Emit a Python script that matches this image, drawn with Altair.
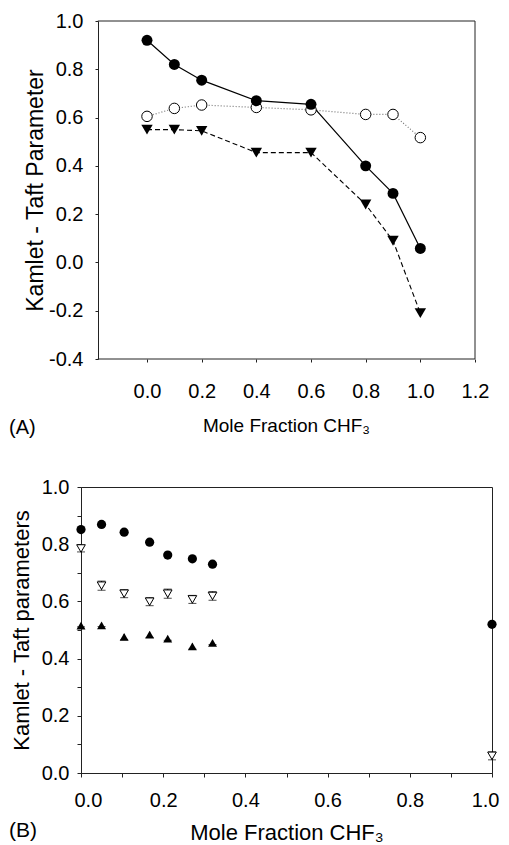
import altair as alt
import pandas as pd

# ---------------- Panel A data ----------------
A_x = [0.0, 0.1, 0.2, 0.4, 0.6, 0.8, 0.9, 1.0]
A_filled = [0.92, 0.82, 0.755, 0.67, 0.655, 0.40, 0.286, 0.058]
A_open = [0.605, 0.638, 0.652, 0.642, 0.632, 0.613, 0.613, 0.517]
A_tri = [0.55, 0.55, 0.545, 0.455, 0.455, 0.24, 0.09, -0.21]
A_xticks = [0.0, 0.2, 0.4, 0.6, 0.8, 1.0, 1.2]
A_yticks = [-0.4, -0.2, 0.0, 0.2, 0.4, 0.6, 0.8, 1.0]
A_frame_x = [-0.18, 1.2]     # left / right edge of panel A frame (data units)
A_frame_y = [-0.4, 1.0]      # bottom / top edge of panel A frame

# ---------------- Panel B data ----------------
B_x = [0.0, 0.05, 0.105, 0.167, 0.211, 0.271, 0.32, 1.0]
B_circ = [0.851, 0.869, 0.842, 0.807, 0.762, 0.749, 0.730, 0.520]
B_open = [0.785, 0.655, 0.627, 0.599, 0.627, 0.607, 0.619, 0.060]
B_open_err = [0.012, 0.016, 0.014, 0.014, 0.016, 0.014, 0.015, 0.014]
B_up_x = [0.0, 0.05, 0.105, 0.167, 0.211, 0.271, 0.32]
B_up = [0.515, 0.516, 0.476, 0.484, 0.470, 0.443, 0.455]
B_up_err = [0.004, 0.004, 0.010, 0.010, 0.006, 0.010, 0.006]
B_ticks = [0.0, 0.1, 0.2, 0.3, 0.4, 0.5, 0.6, 0.7, 0.8, 0.9, 1.0]

SANS = "Liberation Sans, Arial, Helvetica, sans-serif"
INK = "#222"

# ================= Panel A =================
dfA = pd.DataFrame({"x": A_x, "filled": A_filled, "open": A_open, "tri": A_tri})

# plot area spans from panel B's left edge; the frame starts at x = -0.18
A_W = 394
A_H = 338
xscaleA = alt.Scale(domain=[-0.2415, 1.2], nice=False, zero=False)
yscaleA = alt.Scale(domain=[-0.4, 1.0], nice=False, zero=False)

hyphen_lab = "(datum.value < -0.001 ? '-' : '') + format(abs(datum.value), '.1f')"

axA_x = alt.Axis(values=A_xticks, format=".1f", title="Mole Fraction CHF₃",
                 grid=False, domain=False, tickSize=3, labelPadding=19, labelFlush=False,
                 labelFont=SANS, labelFontSize=20, labelColor="black",
                 titleFont=SANS, titleFontSize=19, titleFontWeight="normal",
                 titleColor="black", titlePadding=15, titleX=205, titleAnchor="middle",
                 tickColor=INK)
axA_y = alt.Axis(values=A_yticks, labelExpr=hyphen_lab, title="Kamlet - Taft Parameter",
                 grid=False, tickSize=3, labelPadding=12, offset=-17, labelFlush=False,
                 labelFont=SANS, labelFontSize=20, labelColor="black",
                 titleFont=SANS, titleFontSize=23, titleFontWeight="normal",
                 titleColor="black", titlePadding=1,
                 domainColor=INK, tickColor=INK)

xA = alt.X("x:Q", scale=xscaleA, axis=axA_x)


def yA(col):
    return alt.Y(f"{col}:Q", scale=yscaleA, axis=axA_y)


baseA = alt.Chart(dfA)
lineF = baseA.mark_line(color="black", strokeWidth=1.2).encode(x=xA, y=yA("filled"))
lineO = baseA.mark_line(color="#777", strokeWidth=1.2, strokeDash=[1, 2]).encode(x=xA, y=yA("open"))
lineT = baseA.mark_line(color="black", strokeWidth=1.1, strokeDash=[5, 3]).encode(x=xA, y=yA("tri"))
ptsF = baseA.mark_point(shape="circle", filled=True, size=120, color="black", opacity=1).encode(x=xA, y=yA("filled"))
ptsO = baseA.mark_point(shape="circle", filled=True, size=110, fill="white", stroke="black",
                        strokeWidth=1, opacity=1).encode(x=xA, y=yA("open"))
ptsT = baseA.mark_point(shape="triangle-down", filled=True, size=130, color="black", opacity=1).encode(x=xA, y=yA("tri"))

# frame of panel A (top, bottom, right edges)
frameH = pd.DataFrame({"x": [A_frame_x[0]] * 2, "x2": [A_frame_x[1]] * 2, "y": A_frame_y})
frameV = pd.DataFrame({"x": [A_frame_x[1]], "y": [A_frame_y[0]], "y2": [A_frame_y[1]]})
frH = alt.Chart(frameH).mark_rule(color=INK, strokeWidth=1).encode(
    x=alt.X("x:Q", scale=xscaleA, axis=axA_x), x2="x2:Q", y=alt.Y("y:Q", scale=yscaleA, axis=axA_y))
frV = alt.Chart(frameV).mark_rule(color=INK, strokeWidth=1).encode(
    x=alt.X("x:Q", scale=xscaleA, axis=axA_x), y=alt.Y("y:Q", scale=yscaleA, axis=axA_y), y2="y2:Q")

labA = alt.Chart(pd.DataFrame({"t": ["(A)"]})).mark_text(
    text="(A)", font=SANS, fontSize=20, align="left", baseline="alphabetic", color="black"
).encode(x=alt.value(-72), y=alt.value(413))

panelA = alt.layer(frH, frV, lineO, lineF, lineT, ptsO, ptsF, ptsT, labA).properties(
    width=A_W, height=A_H, view=alt.ViewConfig(stroke="transparent"))

# ================= Panel B =================
dfB = pd.DataFrame({"x": B_x, "circ": B_circ, "open": B_open, "err": B_open_err})
dfB["lo"] = dfB["open"] - dfB["err"]
dfB["hi"] = dfB["open"] + dfB["err"]
dfU = pd.DataFrame({"x": B_up_x, "up": B_up, "err": B_up_err})
dfU["lo"] = dfU["up"] - dfU["err"]
dfU["hi"] = dfU["up"] + dfU["err"]

even_lab = "round(datum.value*10) % 2 == 0 ? format(datum.value, '.1f') : ''"

xB = alt.X("x:Q", scale=alt.Scale(domain=[0, 1.0], nice=False, zero=False),
           axis=alt.Axis(values=B_ticks, labelExpr=even_lab, title="Mole Fraction CHF₃",
                         grid=False, tickSize=4, labelPadding=13,
                         labelFlush=True, labelFlushOffset=7,
                         labelFont=SANS, labelFontSize=20, labelColor="black",
                         titleFont=SANS, titleFontSize=22, titleFontWeight="normal",
                         titleColor="black", titlePadding=12,
                         domainColor=INK, tickColor=INK))

axB_y = alt.Axis(values=B_ticks, labelExpr=even_lab, title="Kamlet - Taft parameters",
                 grid=False, tickSize=4, labelPadding=8, labelFlush=False,
                 labelFont=SANS, labelFontSize=20, labelColor="black",
                 titleFont=SANS, titleFontSize=22, titleFontWeight="normal",
                 titleColor="black", titlePadding=8,
                 domainColor=INK, tickColor=INK)


def yB(col):
    return alt.Y(f"{col}:Q", scale=alt.Scale(domain=[0, 1.0], nice=False, zero=False), axis=axB_y)


baseB = alt.Chart(dfB)
baseU = alt.Chart(dfU)
errO = baseB.mark_rule(color="black", strokeWidth=1).encode(x=xB, y=yB("lo"), y2="hi:Q")
capOhi = baseB.mark_tick(orient="horizontal", size=8, thickness=1, color="black").encode(x=xB, y=yB("hi"))
capOlo = baseB.mark_tick(orient="horizontal", size=8, thickness=1, color="black").encode(x=xB, y=yB("lo"))
errU = baseU.mark_rule(color="black", strokeWidth=1).encode(x=xB, y=yB("lo"), y2="hi:Q")
capUlo = baseU.mark_tick(orient="horizontal", size=8, thickness=1, color="black").encode(x=xB, y=yB("lo"))
ptsC = baseB.mark_point(shape="circle", filled=True, size=85, color="black", opacity=1).encode(x=xB, y=yB("circ"))
ptsOB = baseB.mark_point(shape="triangle-down", filled=True, size=75, fill="white", stroke="black",
                         strokeWidth=1, opacity=1).encode(x=xB, y=yB("open"))
ptsU = baseU.mark_point(shape="triangle-up", filled=True, size=80, color="black", opacity=1).encode(x=xB, y=yB("up"))
labB = alt.Chart(pd.DataFrame({"t": ["(B)"]})).mark_text(
    text="(B)", font=SANS, fontSize=21, align="left", baseline="alphabetic", color="black"
).encode(x=alt.value(-72), y=alt.value(350))

panelB = alt.layer(errO, capOhi, capOlo, errU, capUlo, ptsC, ptsOB, ptsU, labB).properties(
    width=411, height=286, view=alt.ViewConfig(stroke=INK, strokeWidth=1))

chart = alt.vconcat(panelA, panelB, spacing=37).properties(
    padding={"left": 0, "top": 2, "right": 0, "bottom": 0}
).configure(background="white")

chart.save("out.html", embed_options={"renderer": "svg", "actions": False})
